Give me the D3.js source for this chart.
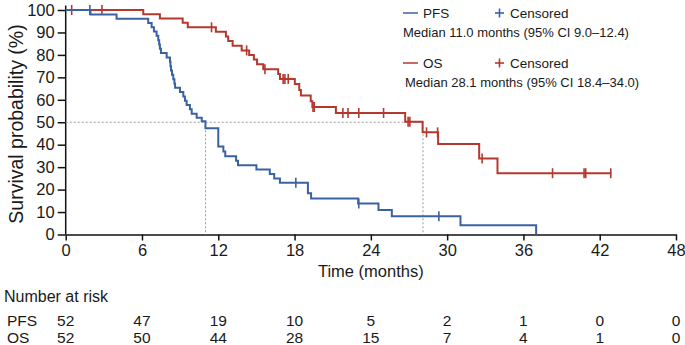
<!DOCTYPE html>
<html><head><meta charset="utf-8">
<script src="https://cdn.jsdelivr.net/npm/d3@7"></script>
<style>
body{margin:0;background:#fff;}
svg{display:block;font-family:"Liberation Sans",Arial,Helvetica,sans-serif;}
</style></head><body>
<svg id="c" width="685" height="345"></svg>
<script>
// ---- data ----
const xTicks = [0,6,12,18,24,30,36,42,48];
const yTicks = [0,10,20,30,40,50,60,70,80,90,100];
const pfsTimes = [0,1.95,4.0,6.49,6.76,6.94,7.15,7.28,7.35,7.41,7.49,7.94,8.2,8.24,8.28,8.36,8.46,8.55,8.6,8.99,9.25,9.38,9.51,9.77,9.91,10.3,10.7,10.99,12.0,12.4,12.55,13.4,13.55,15.0,16.05,16.4,16.85,19.05,19.3,23.0,24.6,25.65,31.05,37.0];
const pfsSurv  = [100,98.0,96.1,94.2,92.3,90.4,88.5,86.5,84.6,82.7,80.8,78.8,76.9,75.0,73.1,71.2,69.2,67.3,65.4,63.5,61.5,59.6,57.7,55.8,53.8,52.0,50.4,47.3,39.2,37.0,34.8,32.8,30.8,28.9,27.0,25.0,23.0,18.4,16.0,13.8,10.9,8.1,4.1,0];
const pfsCensor = [1.9,18.1,23.05,29.35];
const osTimes = [0,6.1,7.41,9.2,9.6,11.81,12.6,12.78,13.13,13.84,14.43,14.8,15.05,15.54,16.71,16.85,18.02,18.37,18.5,19.27,19.4,21.25,26.7,28.07,29.29,32.52,33.96,42.9];
const osSurv  = [100,98.1,96.2,94.3,92.3,90.3,88.2,86.2,84.1,82.0,80.0,77.9,75.8,73.6,71.5,69.3,67.0,64.4,61.9,59.3,56.8,54.1,50.2,45.5,40.3,33.9,27.3,27.3];
const osCensor = [0.47,2.85,11.47,14.23,15.67,17.1,17.24,17.5,19.45,19.55,21.8,22.2,23.05,25.0,26.93,27.07,28.38,29.25,32.75,38.29,40.77,40.9,42.87];
const medians = [11.0, 28.1];
const riskGroups = ["PFS","OS"];
const pfsRisk = [52,47,19,10,5,2,1,0,0];
const osRisk  = [52,50,44,28,15,7,4,1,0];
const legendLabels = ["PFS","OS"];
const medianTexts = ["Median 11.0 months (95% CI 9.0\u201312.4)","Median 28.1 months (95% CI 18.4\u201334.0)"];

const BLUE = "#3a62a3", RED = "#b5382f", TXT = "#1a1a1a";

const svg = d3.select("#c");
const x = d3.scaleLinear().domain([0,48]).range([65.7,676]);
const y = d3.scaleLinear().domain([0,100]).range([234.5,10]);

// axes
const gx = svg.append("g").attr("transform",`translate(0,${y(0)})`)
  .call(d3.axisBottom(x).tickValues(xTicks).tickSize(6).tickSizeOuter(0).tickPadding(4));
const gy = svg.append("g").attr("transform",`translate(${x(0)},0)`)
  .call(d3.axisLeft(y).tickValues(yTicks).tickSize(8).tickSizeOuter(0).tickPadding(3));
[gx,gy].forEach(g=>{
  g.selectAll("path,line").attr("stroke","#111").attr("stroke-width",1.5);
  g.selectAll("text").attr("font-size",16.5).attr("fill",TXT).attr("font-family","Liberation Sans, Arial, sans-serif");
});
gy.select(".domain").attr("d",`M0,${y(0)}V${y(102)}`);

// median reference lines
const dots = svg.append("g").attr("stroke","#9a9a9a").attr("stroke-width",1).attr("stroke-dasharray","2,2").attr("fill","none");
dots.append("line").attr("x1",x(0)).attr("x2",x(medians[1])).attr("y1",y(50)).attr("y2",y(50));
medians.forEach(m=>dots.append("line").attr("x1",x(m)).attr("x2",x(m)).attr("y1",y(50)).attr("y2",y(0)));

// curves
function stepVal(times, surv, t){
  let v = surv[0];
  for(let i=0;i<times.length;i++){ if(times[i]<=t) v=surv[i]; }
  return v;
}
const line = d3.line().x(d=>x(d[0])).y(d=>y(d[1])).curve(d3.curveStepAfter);
function drawCurve(times, surv, cens, color){
  const pts = times.map((t,i)=>[t,surv[i]]);
  svg.append("path").attr("d",line(pts)).attr("fill","none").attr("stroke",color).attr("stroke-width",2);
  svg.append("g").selectAll("line").data(cens).join("line")
    .attr("x1",d=>x(d)).attr("x2",d=>x(d))
    .attr("y1",d=>y(stepVal(times,surv,d))-5).attr("y2",d=>y(stepVal(times,surv,d))+5)
    .attr("stroke",color).attr("stroke-width",1.6);
}
drawCurve(osTimes, osSurv, osCensor, RED);
drawCurve(pfsTimes, pfsSurv, pfsCensor, BLUE);

// axis titles
svg.append("text").attr("x",x(24)).attr("y",277).attr("text-anchor","middle")
  .attr("font-size",16.5).attr("fill",TXT).text("Time (months)");
svg.append("text").attr("transform","translate(23,124) rotate(-90)").attr("text-anchor","middle")
  .attr("font-size",19.5).attr("fill",TXT).text("Survival probability (%)");

// legend
const colors = [BLUE, RED];
const legY = [13, 63];
legendLabels.forEach((lab,i)=>{
  const g = svg.append("g");
  g.append("line").attr("x1",403).attr("x2",418).attr("y1",legY[i]).attr("y2",legY[i]).attr("stroke",colors[i]).attr("stroke-width",1.5);
  g.append("text").attr("x",423).attr("y",legY[i]+5).attr("font-size",13.5).attr("fill",TXT).text(lab);
  g.append("line").attr("x1",495).attr("x2",504).attr("y1",legY[i]).attr("y2",legY[i]).attr("stroke",colors[i]).attr("stroke-width",1.6);
  g.append("line").attr("x1",499.5).attr("x2",499.5).attr("y1",legY[i]-4.5).attr("y2",legY[i]+4.5).attr("stroke",colors[i]).attr("stroke-width",1.6);
  g.append("text").attr("x",510).attr("y",legY[i]+5).attr("font-size",13.5).attr("fill",TXT).text("Censored");
  g.append("text").attr("x",i===0?403:405).attr("y",legY[i]+24).attr("font-size",13).attr("fill",TXT).text(medianTexts[i]);
});

// risk table
svg.append("text").attr("x",4).attr("y",302).attr("font-size",16).attr("fill",TXT).text("Number at risk");
const rows = [pfsRisk, osRisk];
const rowY = [326, 343];
riskGroups.forEach((g,i)=>{
  svg.append("text").attr("x",7).attr("y",rowY[i]).attr("font-size",15.5).attr("fill",TXT).text(g);
  svg.append("g").selectAll("text").data(rows[i]).join("text")
    .attr("x",(d,j)=>x(xTicks[j])).attr("y",rowY[i]).attr("text-anchor","middle")
    .attr("font-size",15.5).attr("fill",TXT).text(d=>d);
});
</script></body></html>
